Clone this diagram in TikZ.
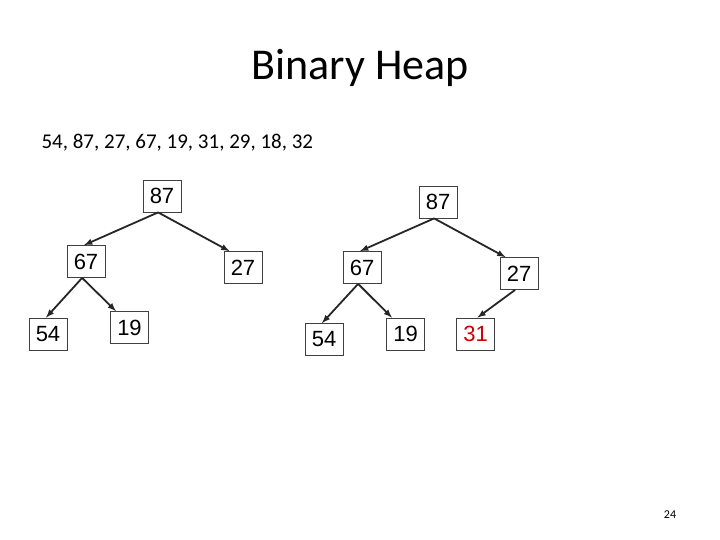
\documentclass[tikz,border=0pt]{standalone}
\usepackage{fontspec}
\setmainfont{Liberation Sans}
\newfontfamily\carlitofont{Carlito}
\usetikzlibrary{calc}
\begin{document}
\begin{tikzpicture}[x=1pt,y=-1pt,
  hb/.style={draw=black!75,line width=0.8pt,minimum width=38pt,minimum height=32pt,inner sep=0pt,font=\fontsize{22}{24}\selectfont},
  ar/.style={-latex,line width=1.8pt,black!85}]
\useasboundingbox (0,0) rectangle (720,540);
\node[font=\carlitofont\fontsize{44}{48}\selectfont] (title) at (360,68) {Binary Heap};
\node[font=\carlitofont\fontsize{21}{24}\selectfont,anchor=west] (seq) at (38,143) {54, 87, 27, 67, 19, 31, 29, 18, 32};
\node[font=\carlitofont\fontsize{12}{13}\selectfont] (pg) at (670,515) {24};
% left tree
\node[hb] (a87) at (162,196) {87};
\node[hb] (a67) at (86,261.5) {67};
\node[hb] (a27) at (243,267.5) {27};
\node[hb] (a54) at (48,334) {54};
\node[hb] (a19) at (129.5,327.5) {19};
% right tree
\node[hb] (b87) at (438,202) {87};
\node[hb] (b67) at (362,267.5) {67};
\node[hb] (b27) at (519,273.5) {27};
\node[hb] (b54) at (324,339.5) {54};
\node[hb] (b19) at (405.5,334) {19};
\node[hb,text=red!80!black] (b31) at (475.5,334) {31};
\foreach \p/\l/\r in {a87/a67/a27,a67/a54/a19,b87/b67/b27,b67/b54/b19}{
  \draw[ar] ($(\p.south west)!0.4!(\p.south east)$) -- ($(\l.north west)!0.45!(\l.north east)$);
  \draw[ar] ($(\p.south west)!0.4!(\p.south east)$) -- ($(\r.north west)!0.15!(\r.north east)$);
}
\draw[ar] ($(b27.south west)!0.4!(b27.south east)$) -- ($(b31.north west)!0.55!(b31.north east)$);
\end{tikzpicture}
\end{document}
